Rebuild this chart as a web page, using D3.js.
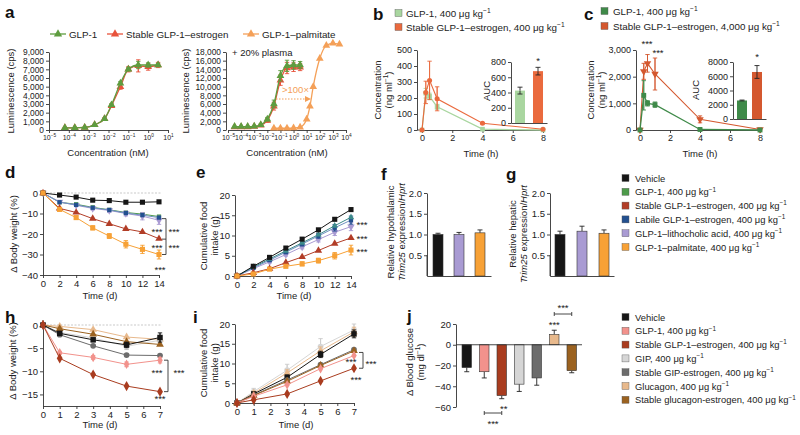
<!DOCTYPE html>
<html><head><meta charset="utf-8">
<script src="https://cdn.jsdelivr.net/npm/d3@7"></script>
<style>
body{margin:0;background:#fff}
svg{font-family:"Liberation Sans",Arial,Helvetica,sans-serif;}
</style></head><body>
<svg id="c" width="800" height="435"></svg>
<script>
// ---------------- DATA ----------------
// Panel a
const aLegend = ["GLP-1", "Stable GLP-1–estrogen", "GLP-1–palmitate"];
const a1Log = [-4.2, -3.7, -3.2, -2.7, -2.2, -1.85, -1.4, -1.0, -0.5, 0, 0.5];
const a1GLP1 = [250, 250, 300, 600, 1300, 2900, 5400, 7000, 7500, 7500, 7500];
const a1Stable = [250, 250, 300, 600, 1300, 2800, 5000, 7000, 7400, 7300, 7500];
const a1Err = [0, 0, 0, 0, 100, 200, 300, 300, 700, 400, 300];
const a1XTicks = [-5, -4, -3, -2, -1, 0, 1];
const a1YTicks = [0, 1000, 2000, 3000, 4000, 5000, 6000, 7000, 8000, 9000];
const a2Log = [-4.5, -4, -3.5, -3, -2.5, -2, -1.5, -1, -0.5, 0, 0.5];
const a2GLP1 = [800, 800, 800, 850, 1200, 2500, 6000, 12500, 14800, 15000, 15000];
const a2Stable = [700, 700, 700, 800, 1100, 2200, 5500, 11500, 14300, 14500, 14500];
const a2Err = [0, 0, 0, 0, 200, 400, 900, 1200, 1300, 1000, 800];
const a2PalmLog = [-1.5, -1, -0.5, 0, 0.5, 1, 1.25, 1.5, 2, 2.5, 3, 3.5];
const a2Palm = [400, 400, 400, 450, 650, 2500, 5500, 10000, 16500, 19500, 20000, 19800];
const a2XTicks = [-5, -4, -3, -2, -1, 0, 1, 2, 3, 4];
const a2YTicks = [0, 2000, 4000, 6000, 8000, 10000, 12000, 14000, 16000, 18000];

// Panel b
const bLegend = ["GLP-1, 400 μg kg^{−1}", "Stable GLP-1–estrogen, 400 μg kg^{−1}"];
const bTime = [0, 0.25, 0.5, 1, 4, 8];
const bGLP1 = [0, 230, 210, 145, 5, 0];
const bGLP1Err = [0, 30, 20, 15, 0, 0];
const bStable = [0, 235, 310, 195, 42, 5];
const bStableErr = [0, 70, 120, 75, 5, 0];
const bAUC = [425, 680];
const bAUCErr = [45, 50];
const bYTicks = [0, 100, 200, 300, 400, 500];
const bAUCTicks = [0, 200, 400, 600, 800];
const timeTicksH = [0, 2, 4, 6, 8];

// Panel c
const cLegend = ["GLP-1, 400 μg kg^{−1}", "Stable GLP-1–estrogen, 4,000 μg kg^{−1}"];
const cTime = [0, 0.25, 0.5, 1, 4, 8];
const cGLP1 = [0, 1300, 1000, 950, 20, 0];
const cGLP1Err = [0, 550, 100, 100, 20, 0];
const cStable = [0, 2200, 2500, 2100, 400, 20];
const cStableErr = [0, 300, 330, 600, 130, 30];
const cAUC = [2600, 6600];
const cAUCErr = [60, 900];
const cYTicks = [0, 1000, 2000, 3000];
const cAUCTicks = [0, 2000, 4000, 6000, 8000];

// Panels d-g
const dgLegend = ["Vehicle", "GLP-1, 400 μg kg^{−1}", "Stable GLP-1–estrogen, 400 μg kg^{−1}",
  "Labile GLP-1–estrogen, 400 μg kg^{−1}", "GLP-1–lithocholic acid, 400 μg kg^{−1}", "GLP-1–palmitate, 400 μg kg^{−1}"];
const dDays = [0, 2, 4, 6, 8, 10, 12, 14];
const dVehicle = [0, -1, -2, -3.5, -3.7, -4.5, -4.5, -4.3];
const dGLP1 = [0, -4.5, -5.5, -7, -8.2, -9.5, -10.3, -11.5];
const dStable = [0, -7.5, -9.5, -12.5, -15, -17.5, -19, -22.3];
const dLabile = [0, -4.5, -5.8, -7.2, -8.3, -9.8, -10.8, -12];
const dLitho = [0, -4.3, -6, -7.5, -8.5, -10, -11.3, -13.3];
const dPalm = [0, -8, -12, -17, -21, -25, -27.5, -30];
const dLithoErr = [0, 0.5, 0.6, 0.8, 1, 1.2, 1.8, 2];
const dPalmErr = [0, 0.8, 0.8, 1, 1.2, 1.8, 2, 2.2];
const dYTicks = [0, -10, -20, -30, -40];
const dayTicks14 = [0, 2, 4, 6, 8, 10, 12, 14];

const eVehicle = [0, 2.4, 4.6, 6.9, 9.1, 11.4, 14, 16.4];
const eGLP1 = [0, 2.2, 4.2, 6.2, 8.2, 10.2, 12.4, 14.5];
const eLabile = [0, 2, 3.9, 5.9, 7.9, 9.9, 11.9, 13.8];
const eLitho = [0, 1.8, 3.5, 5.3, 7.2, 9, 10.8, 12.2];
const eStable = [0, 0.8, 1.8, 3.3, 4.7, 6.3, 8, 9.4];
const ePalm = [0, 0.5, 1.7, 2.4, 3, 3.8, 5, 6.4];
const eLithoErr = [0, 0.2, 0.3, 0.4, 0.5, 0.6, 0.8, 1];
const ePalmErr = [0, 0.2, 0.3, 0.4, 0.5, 0.6, 0.8, 1.2];
const eYTicks = [0, 5, 10, 15, 20];

const fValues = [1.0, 1.0, 1.04];
const fErr = [0.03, 0.05, 0.07];
const gValues = [1.0, 1.08, 1.03];
const gErr = [0.08, 0.12, 0.08];
const fgGroups = ["Vehicle", "GLP-1–lithocholic acid", "GLP-1–palmitate"];
const fgYTicks = [0.5, 1.0, 1.5, 2.0];

// Panels h-j
const hjLegend = ["Vehicle", "GLP-1, 400 μg kg^{−1}", "Stable GLP-1–estrogen, 400 μg kg^{−1}",
  "GIP, 400 μg kg^{−1}", "Stable GIP-estrogen, 400 μg kg^{−1}", "Glucagon, 400 μg kg^{−1}",
  "Stable glucagon-estrogen, 400 μg kg^{−1}"];
const hDays = [0, 1, 3, 5, 7];
const hVehicle = [0, -1.8, -3.2, -4.3, -2.7];
const hGLP1 = [0, -6, -7, -8.5, -7.6];
const hStable = [0, -7.2, -10.7, -13.2, -14.4];
const hGIP = [0, -1.6, -2.8, -4.6, -3.3];
const hStableGIP = [0, -2.1, -4.5, -6.5, -6.6];
const hGlucagon = [0, -0.3, -1, -2.6, -3.1];
const hStableGlucagon = [0, -0.8, -2, -3.6, -4.2];
const hVehicleErr = [0, 0.3, 0.4, 0.6, 1];
const hYTicks = [0, -5, -10, -15];
const dayTicks7 = [0, 1, 2, 3, 4, 5, 6, 7];

const iVehicle = [0, 2.3, 6.5, 12.3, 17.5];
const iGLP1 = [0, 1.7, 4.6, 8.7, 12];
const iStable = [0, 0.8, 2.3, 5.6, 8.8];
const iGIP = [0, 2.9, 8.3, 14.3, 18.5];
const iStableGIP = [0, 2, 5.8, 9.7, 13.5];
const iGlucagon = [0, 2.5, 7.6, 13.2, 18];
const iStableGlucagon = [0, 1.9, 5.5, 9.5, 13.2];
const iGIPErr = [0, 0.8, 1.5, 2, 1.5];
const iYTicks = [0, 5, 10, 15, 20];

const jGroups = ["Vehicle", "GLP-1", "Stable GLP-1–estrogen", "GIP", "Stable GIP-estrogen", "Glucagon", "Stable glucagon-estrogen"];
const jValues = [-22, -26, -49, -38, -32, 10, -25];
const jErr = [4, 6, 3, 7, 7, 4, 2];
const jYTicks = [20, 0, -20, -40, -60];

// ---------------- STYLE ----------------
const AX = "#333";
const FT = 9.5;   // axis titles
const FL = 9.4;   // legends
const FK = 9;     // tick labels
const C = {
  aGLP1: "#5e9c3f", aStable: "#e8533c", aPalm: "#f4a058",
  bGLP1: "#a9d6a0", bStable: "#ea6a3e",
  cGLP1: "#3f8a49", cStable: "#d4582f",
  veh: "#161616", glp: "#4d9b4a", stab: "#b23d27", lab: "#23508f", lith: "#a99bd3", palm: "#f7a136",
  hGLP1: "#f2928c", hStab: "#a93c1f", gip: "#d6d6d6", sgip: "#6c6c6c", gluc: "#e8b98c", sgluc: "#9b6220"
};

const svg = d3.select("#c");

function rich(t, str, fs) {
  const re = /(\^\{[^}]*\}|\*\{[^}]*\})/g;
  const parts = str.split(re).filter(s => s.length);
  let prevSup = false;
  const up = fs * 0.4;
  parts.forEach(p => {
    const sp = t.append("tspan");
    if (p.startsWith("^{")) {
      sp.text(p.slice(2, -1)).attr("font-size", fs * 0.68).attr("dy", prevSup ? 0 : -up);
      prevSup = true;
    } else {
      if (p.startsWith("*{")) sp.text(p.slice(2, -1)).attr("font-style", "italic");
      else sp.text(p);
      if (prevSup) sp.attr("dy", up);
      prevSup = false;
    }
  });
  return t;
}

function txt(g, x, y, str, o = {}) {
  const fs = o.size || 10;
  const t = g.append("text")
    .attr("font-size", fs)
    .attr("text-anchor", o.anchor || "start")
    .attr("fill", o.fill || "#222")
    .attr("font-weight", o.weight || "normal");
  if (o.rotate) t.attr("transform", `translate(${x},${y}) rotate(-90)`);
  else t.attr("x", x).attr("y", y);
  rich(t, str, fs);
  return t;
}

function styleAxis(g, fs) {
  g.selectAll(".domain").attr("stroke", AX).attr("stroke-width", 0.9);
  g.selectAll(".tick line").attr("stroke", AX).attr("stroke-width", 0.9);
  g.selectAll(".tick text").attr("font-size", fs).attr("fill", "#222")
    .attr("font-family", '"Liberation Sans",Arial,sans-serif');
}

function yAxis(x, scale, ticks, fmt, fs = FK) {
  const g = svg.append("g").attr("transform", `translate(${x},0)`)
    .call(d3.axisLeft(scale).tickValues(ticks).tickFormat(fmt).tickSize(3).tickSizeOuter(0).tickPadding(2));
  styleAxis(g, fs);
  return g;
}
function xAxis(y, scale, ticks, fmt, fs = FK) {
  const g = svg.append("g").attr("transform", `translate(0,${y})`)
    .call(d3.axisBottom(scale).tickValues(ticks).tickFormat(fmt).tickSize(3).tickSizeOuter(0).tickPadding(2));
  styleAxis(g, fs);
  return g;
}
function logLabels(g, fs) {
  g.selectAll(".tick text").each(function (d) {
    const t = d3.select(this);
    t.text("");
    rich(t, "10^{" + (d < 0 ? "−" + (-d) : d) + "}", fs);
  });
}
const fmtNum = d => d3.format(",")(d).replace("-", "−");
const fmtPlain = d => String(d).replace("-", "−");

function errBar(g, x, y0, y1, color, cap = 2.2, w = 0.9) {
  g.append("line").attr("x1", x).attr("x2", x).attr("y1", y0).attr("y2", y1).attr("stroke", color).attr("stroke-width", w);
  g.append("line").attr("x1", x - cap).attr("x2", x + cap).attr("y1", y1).attr("y2", y1).attr("stroke", color).attr("stroke-width", w);
}

function series(xs, ys, X, Y, color, shape, o = {}) {
  const g = svg.append("g");
  const pts = xs.map((x, i) => [X(x), Y(ys[i])]);
  g.append("path").attr("d", d3.line().curve(o.curve || d3.curveLinear)(pts))
    .attr("fill", "none").attr("stroke", o.lineColor || color).attr("stroke-width", o.lw || 1);
  if (o.err) o.err.forEach((e, i) => {
    if (!e) return;
    errBar(g, pts[i][0], Y(ys[i] - e), Y(ys[i] + e), o.errColor || color);
    errBar(g, pts[i][0], Y(ys[i] + e), Y(ys[i] - e), o.errColor || color);
  });
  g.selectAll(null).data(pts).join("path")
    .attr("transform", d => `translate(${d[0]},${d[1]})${o.rot ? " rotate(" + o.rot + ")" : ""}`)
    .attr("d", d3.symbol(shape, o.size || 26)).attr("fill", color)
    .attr("stroke", o.stroke || "none").attr("stroke-width", 0.6);
  return g;
}

function bars(groups, vals, errs, X, Y, colors, o = {}) {
  const g = svg.append("g");
  groups.forEach((k, i) => {
    const v = vals[i], x = X(k), w = X.bandwidth();
    const y0 = Y(0), y1 = Y(v);
    const cx = x + w / 2;
    const tip = v >= 0 ? Y(v + errs[i]) : Y(v - errs[i]);
    errBar(g, cx, y1, tip, o.errColor || "#222", 2.5);
    g.append("rect").attr("x", x).attr("width", w)
      .attr("y", Math.min(y0, y1)).attr("height", Math.abs(y1 - y0))
      .attr("fill", colors[i]).attr("stroke", o.stroke || "#333").attr("stroke-width", 0.6);
    if (o.bothErr) errBar(g, cx, y1, v >= 0 ? Y(v - errs[i]) : Y(v + errs[i]), "#222", 2.5);
  });
  return g;
}

const letter = (x, y, s) => txt(svg, x, y, s, { size: 17, weight: "bold", fill: "#111" });
const stars = (x, y, s, anchor = "middle") => txt(svg, x, y, s, { size: 9.5, anchor });
const hline = (x1, x2, y) => svg.append("line").attr("x1", x1).attr("x2", x2).attr("y1", y).attr("y2", y).attr("stroke", AX).attr("stroke-width", 0.9);
const vline = (x, y1, y2) => svg.append("line").attr("x1", x).attr("x2", x).attr("y1", y1).attr("y2", y2).attr("stroke", AX).attr("stroke-width", 0.9);

// ---------------- PANEL a ----------------
letter(5, 18, "a");
[[C.aGLP1, 50, 69], [C.aStable, 107, 126], [C.aPalm, 243, 262]].forEach((d, i) => {
  const lg = svg.append("g");
  lg.append("line").attr("x1", d[1]).attr("x2", d[1] + 16).attr("y1", 34).attr("y2", 34).attr("stroke", d[0]).attr("stroke-width", 1.3);
  lg.append("path").attr("transform", `translate(${d[1] + 8},34)`).attr("d", d3.symbol(d3.symbolTriangle, 30)).attr("fill", d[0]);
  txt(svg, d[2], 38, aLegend[i], { size: 9.8 });
});
const a1X = d3.scaleLinear().domain([-5, 1]).range([49, 168]);
const a1Y = d3.scaleLinear().domain([0, 9000]).range([130, 52]);
yAxis(49, a1Y, a1YTicks, fmtNum, 8.4);
logLabels(xAxis(130, a1X, a1XTicks, d => d, 7), 7);
series(a1Log, a1Stable, a1X, a1Y, C.aStable, d3.symbolTriangle, { curve: d3.curveMonotoneX, lw: 1.3, err: a1Err });
series(a1Log, a1GLP1, a1X, a1Y, C.aGLP1, d3.symbolTriangle, { curve: d3.curveMonotoneX, lw: 1.3, err: a1Err.map(e => e * 0.6) });
txt(svg, 14, 91, "Luminescence (cps)", { size: FT, rotate: true, anchor: "middle" });
txt(svg, 108, 156, "Concentration (nM)", { size: FT, anchor: "middle" });

const a2X = d3.scaleLinear().domain([-5, 4]).range([228, 346]);
const a2Y = d3.scaleLinear().domain([0, 18000]).range([130, 52]);
yAxis(226, a2Y, a2YTicks, fmtNum, 8.4);
logLabels(xAxis(130, a2X, a2XTicks, d => d, 7), 7);
series(a2PalmLog, a2Palm, a2X, a2Y, C.aPalm, d3.symbolTriangle, { curve: d3.curveMonotoneX, lw: 1.3 });
series(a2Log, a2Stable, a2X, a2Y, C.aStable, d3.symbolTriangle, { curve: d3.curveMonotoneX, lw: 1.3, err: a2Err });
series(a2Log, a2GLP1, a2X, a2Y, C.aGLP1, d3.symbolTriangle, { curve: d3.curveMonotoneX, lw: 1.3, err: a2Err });
txt(svg, 232, 56, "+ 20% plasma", { size: FT });
txt(svg, 282, 93, ">100×", { size: FT, fill: C.aPalm });
svg.append("line").attr("x1", 276).attr("x2", 306).attr("y1", 99).attr("y2", 99)
  .attr("stroke", C.aPalm).attr("stroke-width", 1.2).attr("stroke-dasharray", "1.5,1.5");
svg.append("path").attr("d", "M305,96 L311,99 L305,102 Z").attr("fill", C.aPalm);
txt(svg, 189, 91, "Luminescence (cps)", { size: FT, rotate: true, anchor: "middle" });
txt(svg, 287, 156, "Concentration (nM)", { size: FT, anchor: "middle" });

// ---------------- PANEL b ----------------
letter(373, 20, "b");
[[C.bGLP1, 13], [C.bStable, 27]].forEach((d, i) => {
  svg.append("rect").attr("x", 395).attr("y", d[1] - 3.5).attr("width", 7).attr("height", 7).attr("fill", d[0]).attr("stroke", "#555").attr("stroke-width", 0.4);
  txt(svg, 406, d[1] + 4, bLegend[i], { size: 9.8 });
});
const bX = d3.scaleLinear().domain([0, 8]).range([422, 543]);
const bY = d3.scaleLinear().domain([0, 500]).range([130, 50]);
yAxis(417, bY, bYTicks, fmtNum);
xAxis(130, bX, timeTicksH, d => d);
hline(417, 422, 130);
series(bTime, bGLP1, bX, bY, C.bGLP1, d3.symbolSquare, { lw: 1.3, err: bGLP1Err, size: 22 });
series(bTime, bStable, bX, bY, C.bStable, d3.symbolCircle, { lw: 1.1, err: bStableErr, size: 20 });
txt(svg, 381, 90, "Concentration", { size: FT, rotate: true, anchor: "middle" });
txt(svg, 392, 90, "(ng ml^{−1})", { size: FT, rotate: true, anchor: "middle" });
txt(svg, 481, 157, "Time (h)", { size: FT, anchor: "middle" });
const bIX = d3.scaleBand().domain(["GLP-1", "Stable"]).range([511, 547]).paddingInner(0.444).paddingOuter(0.222);
const bIY = d3.scaleLinear().domain([0, 800]).range([123, 62]);
bars(["GLP-1", "Stable"], bAUC, bAUCErr, bIX, bIY, [C.bGLP1, C.bStable], { bothErr: true, stroke: "none" });
yAxis(511, bIY, bAUCTicks, d => d);
xAxis(123, bIX, [], d => d);
txt(svg, 490, 91, "AUC", { size: FT, rotate: true, anchor: "middle" });
stars(538, 64, "*");

// ---------------- PANEL c ----------------
letter(584, 20, "c");
[[C.cGLP1, 11], [C.cStable, 26]].forEach((d, i) => {
  svg.append("rect").attr("x", 601).attr("y", d[1] - 3.5).attr("width", 7).attr("height", 7).attr("fill", d[0]).attr("stroke", "#555").attr("stroke-width", 0.4);
  txt(svg, 613, d[1] + 4, cLegend[i], { size: 9.8 });
});
const cX = d3.scaleLinear().domain([0, 8]).range([640, 760]);
const cY = d3.scaleLinear().domain([0, 3000]).range([130, 50]);
yAxis(636, cY, cYTicks, fmtNum);
xAxis(130, cX, timeTicksH, d => d);
hline(636, 640, 130);
series(cTime, cStable, cX, cY, C.cStable, d3.symbolTriangle, { lw: 1.1, err: cStableErr, size: 24, rot: 180 });
series(cTime, cGLP1, cX, cY, C.cGLP1, d3.symbolSquare, { lw: 1.3, err: cGLP1Err, size: 24 });
stars(647, 47, "***");
stars(658, 56, "***");
txt(svg, 594, 90, "Concentration", { size: FT, rotate: true, anchor: "middle" });
txt(svg, 605, 90, "(ng ml^{−1})", { size: FT, rotate: true, anchor: "middle" });
txt(svg, 700, 157, "Time (h)", { size: FT, anchor: "middle" });
const cIX = d3.scaleBand().domain(["GLP-1", "Stable"]).range([733, 766]).paddingInner(0.333).paddingOuter(0.267);
const cIY = d3.scaleLinear().domain([0, 8000]).range([119, 62]);
bars(["GLP-1", "Stable"], cAUC, cAUCErr, cIX, cIY, [C.cGLP1, C.cStable], { bothErr: true, stroke: "none" });
yAxis(733, cIY, cAUCTicks, d => d);
xAxis(119, cIX, [], d => d);
txt(svg, 699, 90, "AUC", { size: FT, rotate: true, anchor: "middle" });
stars(757, 60, "*");

// ---------------- PANEL d ----------------
letter(5, 178, "d");
const dX = d3.scaleLinear().domain([0, 14]).range([43, 159]);
const dY = d3.scaleLinear().domain([-40, 0]).range([275, 193]);
svg.append("line").attr("x1", 43).attr("x2", 162).attr("y1", dY(0)).attr("y2", dY(0))
  .attr("stroke", "#bbb").attr("stroke-width", 0.8).attr("stroke-dasharray", "2,1.5");
yAxis(43, dY, dYTicks, fmtPlain, 9.5);
xAxis(275, dX, dayTicks14, d => d, 9.5);
series(dDays, dGLP1, dX, dY, C.glp, d3.symbolSquare, { size: 18 });
series(dDays, dLitho, dX, dY, C.lith, d3.symbolTriangle, { err: dLithoErr, size: 24, rot: 180 });
series(dDays, dLabile, dX, dY, C.lab, d3.symbolSquare, { size: 18, lineColor: "#6f8fc0" });
series(dDays, dVehicle, dX, dY, C.veh, d3.symbolSquare, { size: 26 });
series(dDays, dStable, dX, dY, C.stab, d3.symbolTriangle, { size: 24 });
series(dDays, dPalm, dX, dY, C.palm, d3.symbolSquare, { err: dPalmErr, size: 26 });
svg.append("path").attr("d", `M162,${dY(-12.5)} H166 V${dY(-30)} H162 M162,${dY(-22.5)} H166`)
  .attr("fill", "none").attr("stroke", "#333").attr("stroke-width", 0.9);
stars(157, 235, "***"); stars(174, 235, "***");
stars(157, 251, "***"); stars(174, 251, "***");
stars(160, 273, "***");
txt(svg, 17, 234, "Δ Body weight (%)", { size: FT, rotate: true, anchor: "middle" });
txt(svg, 100, 299, "Time (d)", { size: FT, anchor: "middle" });

// ---------------- PANEL e ----------------
letter(196, 178, "e");
const eX = d3.scaleLinear().domain([0, 14]).range([237, 351]);
const eY = d3.scaleLinear().domain([0, 20]).range([276, 195]);
yAxis(235, eY, eYTicks, d => d, 9.5);
xAxis(276, eX, dayTicks14, d => d, 9.5);
series(dDays, eLitho, eX, eY, C.lith, d3.symbolTriangle, { err: eLithoErr, size: 24, rot: 180 });
series(dDays, eLabile, eX, eY, C.lab, d3.symbolSquare, { size: 18, lineColor: "#6f8fc0", err: eLithoErr });
series(dDays, eGLP1, eX, eY, "#3d8a8a", d3.symbolTriangle, { size: 18 });
series(dDays, eVehicle, eX, eY, C.veh, d3.symbolSquare, { size: 26 });
series(dDays, eStable, eX, eY, C.stab, d3.symbolTriangle, { size: 24 });
series(dDays, ePalm, eX, eY, C.palm, d3.symbolSquare, { err: ePalmErr, size: 26 });
stars(362, 228, "***"); stars(362, 242, "***"); stars(362, 255, "***");
txt(svg, 207, 236, "Cumulative food", { size: FT, rotate: true, anchor: "middle" });
txt(svg, 218, 236, "intake (g)", { size: FT, rotate: true, anchor: "middle" });
txt(svg, 294, 299, "Time (d)", { size: FT, anchor: "middle" });

// ---------------- PANEL f ----------------
letter(381, 180, "f");
const fgColors = [C.veh, C.lith, C.palm];
const fX = d3.scaleBand().domain(fgGroups).range([427, 491]).paddingInner(0.524).paddingOuter(0.286);
const fY = d3.scaleLinear().domain([0, 2]).range([276, 193]);
bars(fgGroups, fValues, fErr, fX, fY, fgColors);
yAxis(427, fY, fgYTicks, d3.format(".1f"), 9.5);
vline(427, fY(0.5), 276);
xAxis(276, fX, [], d => d);
txt(svg, 394, 232, "Relative hypothalamic", { size: FT, rotate: true, anchor: "middle" });
txt(svg, 405, 232, "*{Trim25} expression/*{Hprt}", { size: FT, rotate: true, anchor: "middle" });

// ---------------- PANEL g ----------------
letter(506, 180, "g");
const gX = d3.scaleBand().domain(fgGroups).range([550, 614]).paddingInner(0.545).paddingOuter(0.227);
const gY = d3.scaleLinear().domain([0, 2]).range([276, 193]);
bars(fgGroups, gValues, gErr, gX, gY, fgColors);
yAxis(550, gY, fgYTicks, d3.format(".1f"), 9.5);
vline(550, gY(0.5), 276);
xAxis(276, gX, [], d => d);
txt(svg, 516, 234, "Relative hepatic", { size: FT, rotate: true, anchor: "middle" });
txt(svg, 527, 234, "*{Trim25} expression/*{Hprt}", { size: FT, rotate: true, anchor: "middle" });

const dgColors = [C.veh, C.glp, C.stab, C.lab, C.lith, C.palm];
dgLegend.forEach((s, i) => {
  const y = 178 + i * 13.8;
  svg.append("rect").attr("x", 622).attr("y", y - 3.5).attr("width", 7).attr("height", 7).attr("fill", dgColors[i]).attr("stroke", "#555").attr("stroke-width", 0.4);
  txt(svg, 635, y + 3.6, s, { size: FL });
});

// ---------------- PANEL h ----------------
letter(5, 323, "h");
const hX = d3.scaleLinear().domain([0, 7]).range([43, 160]);
const hY = d3.scaleLinear().domain([-17.5, 0]).range([406, 325]);
svg.append("line").attr("x1", 43).attr("x2", 162).attr("y1", hY(0)).attr("y2", hY(0))
  .attr("stroke", "#bbb").attr("stroke-width", 0.8).attr("stroke-dasharray", "2,1.5");
yAxis(43, hY, hYTicks, fmtPlain, 9.5);
vline(43, 320, 325);
xAxis(406, hX, dayTicks7, d => d, 9.5);
series(hDays, hGlucagon, hX, hY, C.gluc, d3.symbolTriangle, { size: 26 });
series(hDays, hGIP, hX, hY, C.gip, d3.symbolCircle, { size: 24, err: [0, 0.3, 0.5, 0.7, 0.8], errColor: "#bbb" });
series(hDays, hStableGlucagon, hX, hY, C.sgluc, d3.symbolTriangle, { size: 26 });
series(hDays, hStableGIP, hX, hY, C.sgip, d3.symbolCircle, { size: 26 });
series(hDays, hVehicle, hX, hY, C.veh, d3.symbolSquare, { size: 30, err: hVehicleErr });
series(hDays, hGLP1, hX, hY, C.hGLP1, d3.symbolDiamond, { size: 26, err: [0, 0.3, 0.4, 0.5, 0.6] });
series(hDays, hStable, hX, hY, C.hStab, d3.symbolDiamond, { size: 30 });
svg.append("path").attr("d", `M164,${hY(-7.6)} H168 V${hY(-14.4)} H164`)
  .attr("fill", "none").attr("stroke", "#333").attr("stroke-width", 0.9);
stars(157, 376, "***"); stars(179, 376, "***"); stars(160, 402, "***");
txt(svg, 16, 361, "Δ Body weight (%)", { size: FT, rotate: true, anchor: "middle" });
txt(svg, 100, 428, "Time (d)", { size: FT, anchor: "middle" });

// ---------------- PANEL i ----------------
letter(193, 323, "i");
const iX = d3.scaleLinear().domain([0, 7]).range([237, 354]);
const iY = d3.scaleLinear().domain([0, 20]).range([403, 324]);
yAxis(235, iY, iYTicks, d => d, 9.5);
xAxis(403, iX, dayTicks7, d => d, 9.5);
series(hDays, iGIP, iX, iY, C.gip, d3.symbolCircle, { size: 26, err: iGIPErr, errColor: "#ccc" });
series(hDays, iGlucagon, iX, iY, C.gluc, d3.symbolTriangle, { size: 26, err: [0, 0.5, 0.8, 1, 1.2] });
series(hDays, iVehicle, iX, iY, C.veh, d3.symbolSquare, { size: 30, err: [0, 0.3, 0.6, 0.8, 1] });
series(hDays, iStableGIP, iX, iY, C.sgip, d3.symbolCircle, { size: 26 });
series(hDays, iStableGlucagon, iX, iY, C.sgluc, d3.symbolTriangle, { size: 26 });
series(hDays, iGLP1, iX, iY, C.hGLP1, d3.symbolDiamond, { size: 26 });
series(hDays, iStable, iX, iY, C.hStab, d3.symbolDiamond, { size: 30 });
svg.append("path").attr("d", `M359,${iY(12.8)} H363 V${iY(8.8)} H359`)
  .attr("fill", "none").attr("stroke", "#333").attr("stroke-width", 0.9);
stars(351, 365, "***"); stars(371, 367, "***"); stars(356, 383, "***");
txt(svg, 207, 363, "Cumulative food", { size: FT, rotate: true, anchor: "middle" });
txt(svg, 218, 363, "intake (g)", { size: FT, rotate: true, anchor: "middle" });
txt(svg, 296, 428, "Time (d)", { size: FT, anchor: "middle" });

// ---------------- PANEL j ----------------
letter(407, 322, "j");
const hjColors = [C.veh, C.hGLP1, C.hStab, C.gip, C.sgip, C.gluc, C.sgluc];
const jX = d3.scaleBand().domain(jGroups).range([456, 582.5]).paddingInner(0.457).paddingOuter(0.343);
const jY = d3.scaleLinear().domain([-60, 20]).range([407, 324]);
bars(jGroups, jValues, jErr, jX, jY, hjColors);
yAxis(456, jY, jYTicks, fmtPlain, 9.5);
hline(456, 582, jY(0));
const jc = k => jX(k) + jX.bandwidth() / 2;
stars(jc(jGroups[2]) + 2, 412, "**");
svg.append("path").attr("d", `M${jc(jGroups[1])},411 V415 M${jc(jGroups[1])},413 H${jc(jGroups[2])} M${jc(jGroups[2])},411 V415`)
  .attr("fill", "none").attr("stroke", "#333").attr("stroke-width", 0.9);
stars((jc(jGroups[1]) + jc(jGroups[2])) / 2, 427, "***");
stars(jc(jGroups[5]), 328, "***");
svg.append("path").attr("d", `M${jc(jGroups[5])},312 V316 M${jc(jGroups[5])},314 H${jc(jGroups[6])} M${jc(jGroups[6])},312 V316`)
  .attr("fill", "none").attr("stroke", "#333").attr("stroke-width", 0.9);
stars((jc(jGroups[5]) + jc(jGroups[6])) / 2, 311, "***");
txt(svg, 413, 362, "Δ Blood glucose", { size: FT, rotate: true, anchor: "middle" });
txt(svg, 424, 362, "(mg dl^{−1})", { size: FT, rotate: true, anchor: "middle" });

hjLegend.forEach((s, i) => {
  const y = 317 + i * 13.8;
  svg.append("rect").attr("x", 622).attr("y", y - 3.5).attr("width", 7).attr("height", 7).attr("fill", hjColors[i]).attr("stroke", "#555").attr("stroke-width", 0.4);
  txt(svg, 635, y + 3.6, s, { size: FL });
});
</script>
</body></html>
